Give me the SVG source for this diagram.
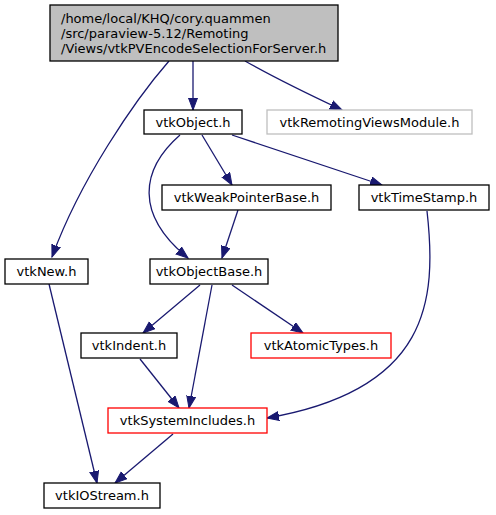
<svg xmlns="http://www.w3.org/2000/svg" width="496" height="515" viewBox="0 0 496 515">
<style>
.n rect{fill:#fff;stroke:#000;stroke-width:1.3}
.n.root rect{fill:#bfbfbf}
.n.ext rect{stroke:#bfbfbf}
.n.red rect{stroke:#ff0000}
.n text{font-family:"DejaVu Sans",sans-serif;font-size:13px;fill:#000}
.c{text-anchor:middle}
.e path{fill:none;stroke:#191970;stroke-width:1.3;marker-end:url(#arr)}
</style>
<defs>
<marker id="arr" markerUnits="userSpaceOnUse" markerWidth="14" markerHeight="12" refX="12" refY="5" orient="auto">
<path d="M0,0.5 L12,5 L0,9.5 z" fill="#191970" stroke="#191970" stroke-width="1"/>
</marker>
</defs>
<rect width="496" height="515" fill="#fff"/>
<g id="edges" class="e">
<path d="M169,61 C135,100 80,180 52,257"/>
<path d="M193,61 L193,110"/>
<path d="M245,61 C275,78 310,95 342,110"/>
<path d="M202,135 L232,185"/>
<path d="M180,135 C140,170 135,215 188,258"/>
<path d="M232,135 L382,185"/>
<path d="M238,210 L222,258"/>
<path d="M427,211 C437,300 430,390 267,418"/>
<path d="M49,284 L97,483"/>
<path d="M200,285 L143,333"/>
<path d="M212,285 L189,408"/>
<path d="M232,285 L303,333"/>
<path d="M140,359 L179,408"/>
<path d="M173,434 L115,483"/>
</g>
<g id="node_root" class="n root">
<rect x="50" y="5" width="288" height="56"/>
<text x="61" y="23">/home/local/KHQ/cory.quammen</text>
<text x="61" y="38">/src/paraview-5.12/Remoting</text>
<text x="61" y="53">/Views/vtkPVEncodeSelectionForServer.h</text>
</g>
<g id="node_vtkObject" class="n">
<rect x="144" y="110" width="98" height="24"/>
<text class="c" x="193" y="126.5">vtkObject.h</text>
</g>
<g id="node_vtkRemotingViewsModule" class="n ext">
<rect x="267" y="110" width="205" height="24"/>
<text class="c" x="369.5" y="126.5">vtkRemotingViewsModule.h</text>
</g>
<g id="node_vtkWeakPointerBase" class="n">
<rect x="162" y="185" width="169" height="25"/>
<text class="c" x="246.5" y="202">vtkWeakPointerBase.h</text>
</g>
<g id="node_vtkTimeStamp" class="n">
<rect x="359" y="185" width="130" height="25"/>
<text class="c" x="424" y="202">vtkTimeStamp.h</text>
</g>
<g id="node_vtkNew" class="n">
<rect x="5" y="259" width="83" height="25"/>
<text class="c" x="46.5" y="276">vtkNew.h</text>
</g>
<g id="node_vtkObjectBase" class="n">
<rect x="150" y="259" width="118" height="25"/>
<text class="c" x="209" y="276">vtkObjectBase.h</text>
</g>
<g id="node_vtkIndent" class="n">
<rect x="81" y="333" width="96" height="25"/>
<text class="c" x="129" y="350">vtkIndent.h</text>
</g>
<g id="node_vtkAtomicTypes" class="n red">
<rect x="251" y="333" width="140" height="25"/>
<text class="c" x="321" y="350">vtkAtomicTypes.h</text>
</g>
<g id="node_vtkSystemIncludes" class="n red">
<rect x="108" y="408" width="159" height="25"/>
<text class="c" x="187.5" y="425">vtkSystemIncludes.h</text>
</g>
<g id="node_vtkIOStream" class="n">
<rect x="44" y="483" width="116" height="25"/>
<text class="c" x="102" y="500">vtkIOStream.h</text>
</g>
</svg>
